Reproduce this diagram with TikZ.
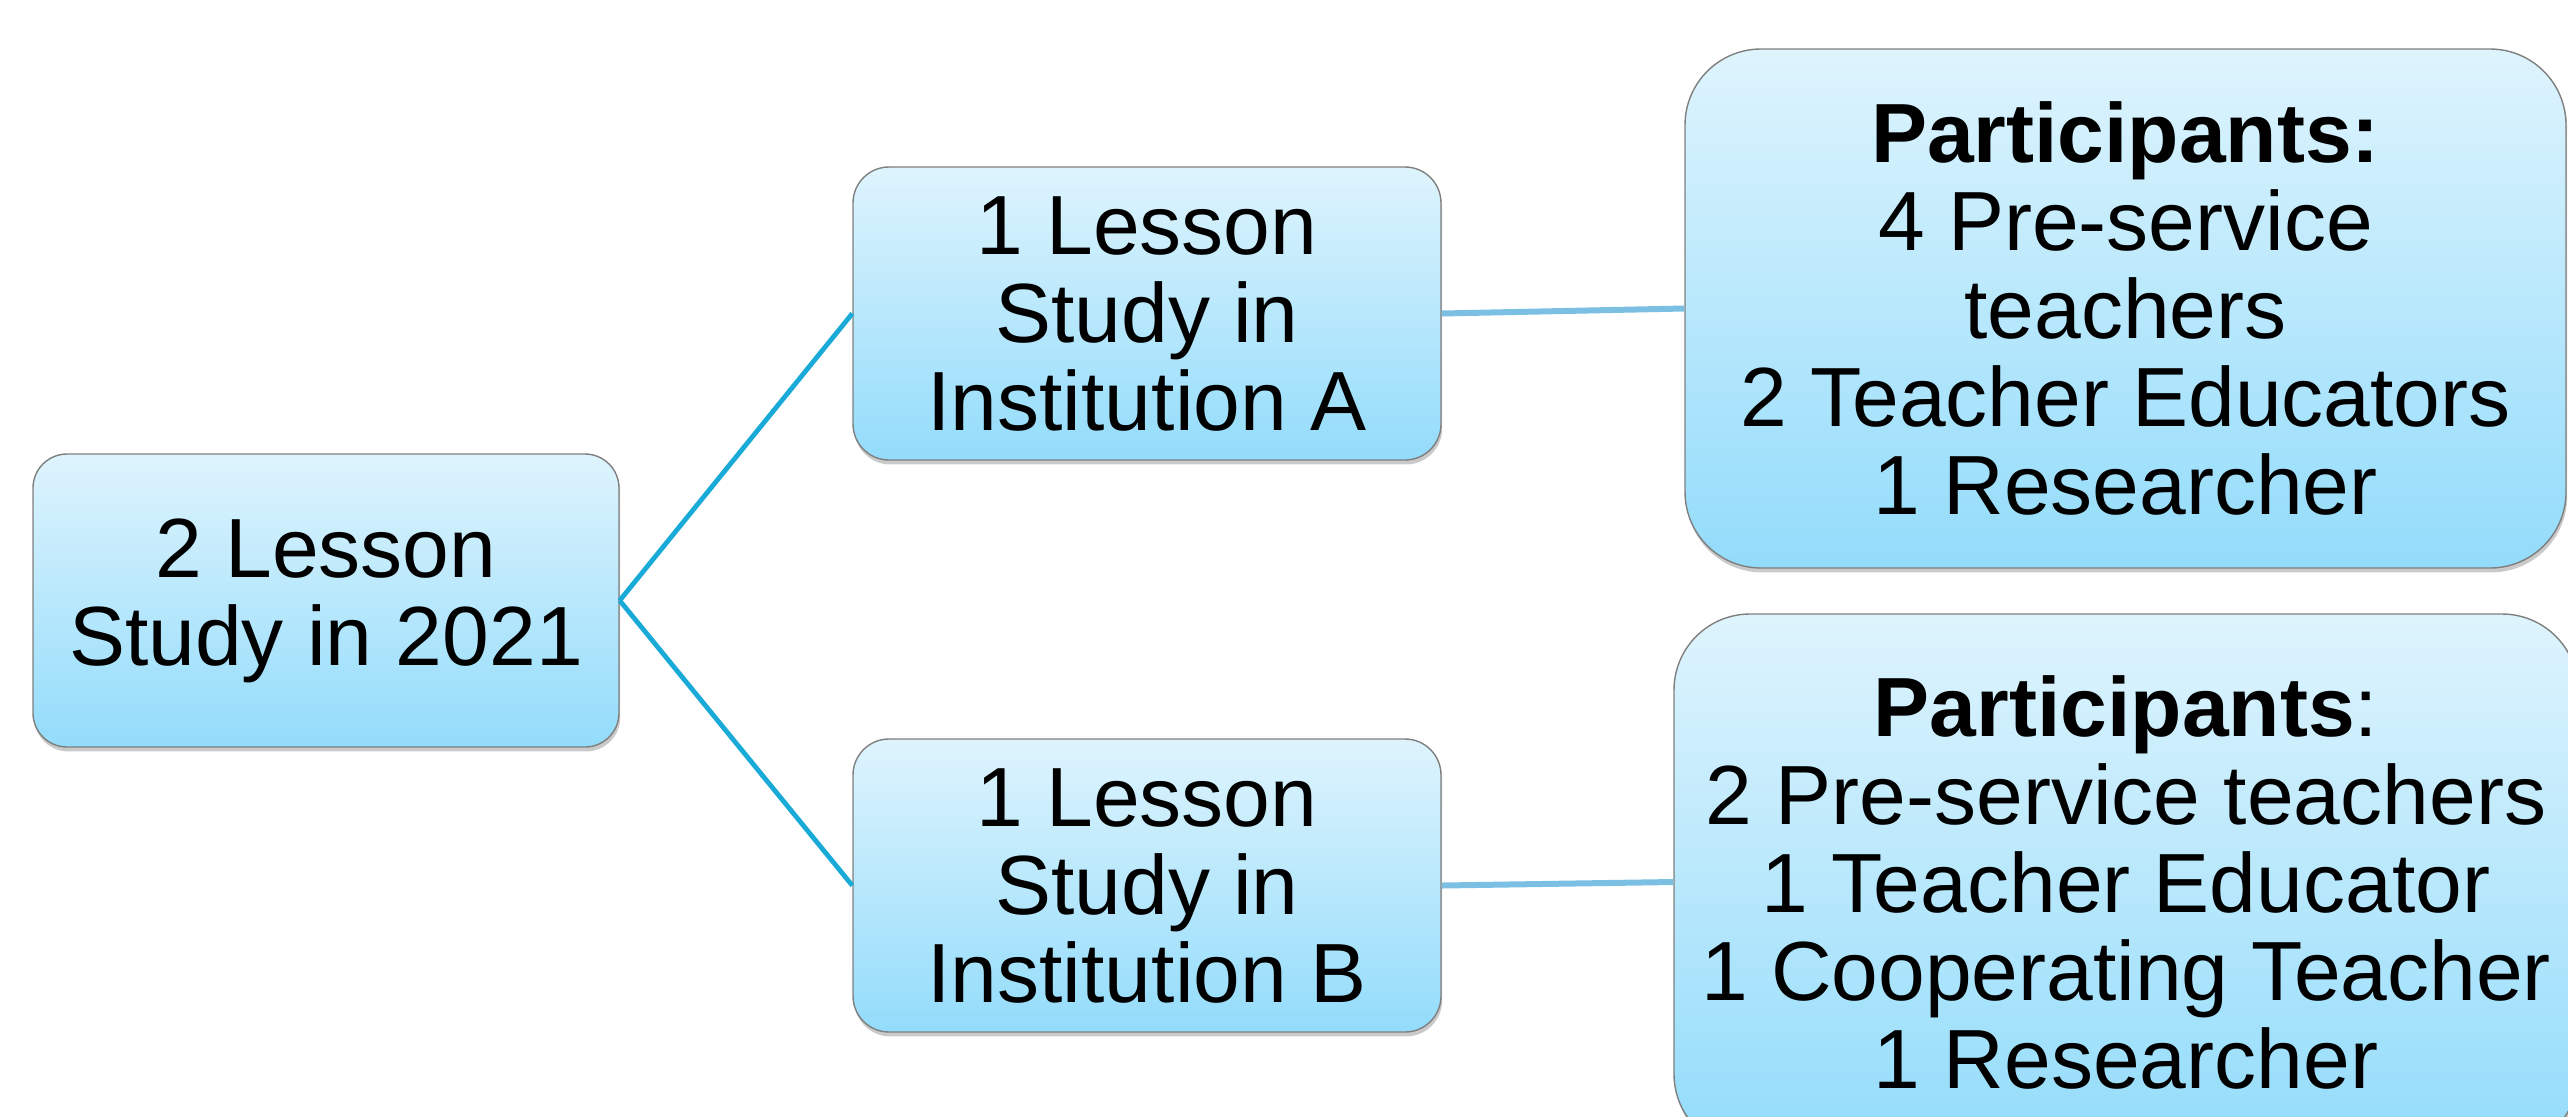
\documentclass[tikz,border=0pt]{standalone}
\usepackage{fontspec}
\setmainfont{Liberation Sans}
\usetikzlibrary{shadows}
\definecolor{topc}{HTML}{DEF4FD}
\definecolor{botc}{HTML}{93DCFB}
\definecolor{edgec}{HTML}{7F7F7F}
\definecolor{linkA}{HTML}{1AAAD8}
\definecolor{linkB}{HTML}{7BBFE3}
\tikzset{
  box/.style={rectangle, draw=edgec, line width=0.7pt, top color=topc, bottom color=botc,
    align=center, inner sep=0pt, font=\fontsize{42}{44}\selectfont,
    drop shadow={shadow xshift=0.6pt, shadow yshift=-2.2pt, opacity=0.35, fill=black!60}},
  link/.style={line width=2.4pt, linkA},
  linkr/.style={line width=3pt, linkB}
}
\begin{document}
\begin{tikzpicture}[x=0.5pt,y=-0.5pt]
\useasboundingbox (0,0) rectangle (2568,1116);
\clip (0,0) rectangle (2568,1116);
\node[box, rounded corners=17pt, minimum width=293pt, minimum height=146.5pt] (root) at (326,600.5) {2 Lesson\\Study in 2021};
\node[box, rounded corners=18pt, minimum width=294pt, minimum height=146.5pt] (a) at (1147,313.5) {1 Lesson\\Study in\\Institution A};
\node[box, rounded corners=18pt, minimum width=294pt, minimum height=146.5pt] (b) at (1147,885.5) {1 Lesson\\Study in\\Institution B};
\node[box, rounded corners=38pt, minimum width=440.5pt, minimum height=259.5pt] (pa) at (2125.5,308.5) {\textbf{Participants:}\\4 Pre-service\\teachers\\2 Teacher Educators\\1 Researcher};
\node[box, rounded corners=38pt, minimum width=452pt, minimum height=268pt] (pb) at (2126,882) {\textbf{Participants}:\\2 Pre-service teachers\\1 Teacher Educator\\1 Cooperating Teacher\\1 Researcher};
\draw[link] (root.east) -- (a.west);
\draw[link] (root.east) -- (b.west);
\draw[linkr] (a.east) -- (pa.west);
\draw[linkr] (b.east) -- (pb.west);
\end{tikzpicture}
\end{document}
